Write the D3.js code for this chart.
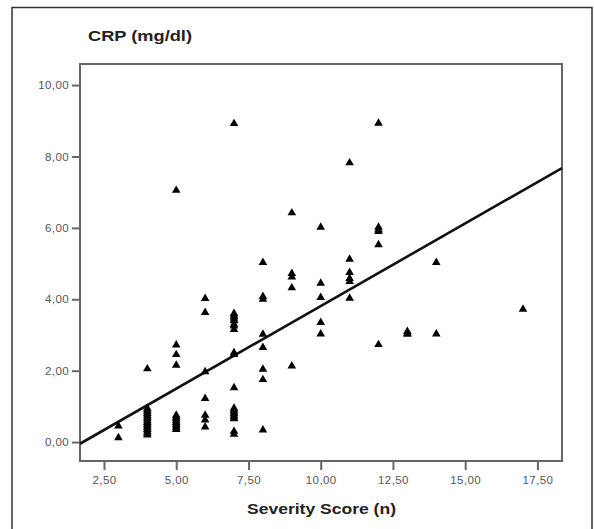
<!DOCTYPE html>
<html>
<head>
<meta charset="utf-8">
<script src="https://cdn.jsdelivr.net/npm/d3@7"></script>
<style>
  body { margin: 0; background: #fff; }
  svg { display: block; font-family: "Liberation Sans", Arial, sans-serif; }
</style>
</head>
<body>
<svg></svg>
<script>
const width = 594
const height = 529

// data: CRP values for each severity score
const scores = [3, 4, 5, 6, 7, 8, 9, 10, 11, 12, 13, 14, 17]
const crpAtScore = [
  [0.45, 0.12],
  [2.05, 0.95, 0.9, 0.85, 0.8, 0.75, 0.7, 0.65, 0.6, 0.55, 0.5, 0.45, 0.4, 0.35, 0.3, 0.25, 0.2],
  [7.05, 2.72, 2.45, 2.15, 0.75, 0.7, 0.65, 0.6, 0.55, 0.5, 0.45, 0.4, 0.35],
  [4.02, 3.63, 1.97, 1.22, 0.75, 0.62, 0.42],
  [8.92, 3.6, 3.55, 3.5, 3.45, 3.4, 3.3, 3.25, 3.15, 2.5, 2.45, 1.52, 0.95, 0.9, 0.85, 0.8, 0.75, 0.7, 0.65, 0.3, 0.22],
  [5.03, 4.08, 4.0, 3.02, 2.65, 2.04, 1.75, 0.34],
  [6.42, 4.72, 4.62, 4.32, 2.13],
  [6.02, 4.45, 4.05, 3.35, 3.03],
  [7.82, 5.12, 4.75, 4.58, 4.5, 4.03],
  [8.93, 6.02, 5.95, 5.9, 5.53, 2.73],
  [3.1, 3.05, 3.02],
  [5.03, 3.03],
  [3.72]
]
// fitted line y = a + b*x
const fitIntercept = -0.82
const fitSlope = 0.463

const xTicks = [2.5, 5, 7.5, 10, 12.5, 15, 17.5]
const yTicks = [0, 2, 4, 6, 8, 10]

let points = []
scores.forEach(function (s, i) {
  crpAtScore[i].forEach(function (v) { points.push({x: s, y: v}) })
})

const svg = d3.select('svg').attr('width', width).attr('height', height)

// outer frame
svg.append('rect')
  .attr('x', 12).attr('y', 7.5)
  .attr('width', 580).attr('height', 540)
  .attr('fill', 'none').attr('stroke', '#333').attr('stroke-width', 1.5)

const plot = {left: 80, top: 64, right: 562, bottom: 461}

const x = d3.scaleLinear().domain([1.67, 18.35]).range([plot.left, plot.right])
const y = d3.scaleLinear().domain([-0.53, 10.59]).range([plot.bottom, plot.top])

const fmt = function (d) { return d3.format('.2f')(d).replace('.', ',') }

// axes
const xAxis = svg.append('g')
  .attr('transform', 'translate(0,' + plot.bottom + ')')
  .call(d3.axisBottom(x).tickValues(xTicks).tickFormat(fmt).tickSize(9).tickPadding(6))
const yAxis = svg.append('g')
  .attr('transform', 'translate(' + plot.left + ',0)')
  .call(d3.axisLeft(y).tickValues(yTicks).tickFormat(fmt).tickSize(8).tickPadding(3))

;[xAxis, yAxis].forEach(function (a) {
  a.select('.domain').remove()
  a.selectAll('line').attr('stroke', '#666').attr('stroke-width', 2)
  a.selectAll('text').attr('fill', '#555').style('font-size', '11.5px')
    .style('letter-spacing', '0.4px')
})

// plot frame
svg.append('rect')
  .attr('x', plot.left).attr('y', plot.top)
  .attr('width', plot.right - plot.left).attr('height', plot.bottom - plot.top)
  .attr('fill', 'none').attr('stroke', '#666').attr('stroke-width', 2)

// regression line
const x0 = x.domain()[0], x1 = x.domain()[1]
svg.append('line')
  .attr('x1', x(x0)).attr('y1', y(fitIntercept + fitSlope * x0))
  .attr('x2', x(x1)).attr('y2', y(fitIntercept + fitSlope * x1))
  .attr('stroke', '#111').attr('stroke-width', 2.6)

// points
svg.append('g').selectAll('path').data(points).enter().append('path')
  .attr('d', d3.symbol().type(d3.symbolTriangle).size(32))
  .attr('transform', function (d) { return 'translate(' + x(d.x) + ',' + y(d.y) + ')' })
  .attr('fill', '#000')

// titles
svg.append('text')
  .attr('x', 88).attr('y', 41)
  .attr('textLength', 104).attr('lengthAdjust', 'spacingAndGlyphs')
  .style('font-size', '15px').style('font-weight', 'bold').attr('fill', '#222')
  .text('CRP (mg/dl)')

svg.append('text')
  .attr('x', 247).attr('y', 514)
  .attr('textLength', 149).attr('lengthAdjust', 'spacingAndGlyphs')
  .style('font-size', '14px').style('font-weight', 'bold').attr('fill', '#222')
  .text('Severity Score (n)')
</script>
</body>
</html>
